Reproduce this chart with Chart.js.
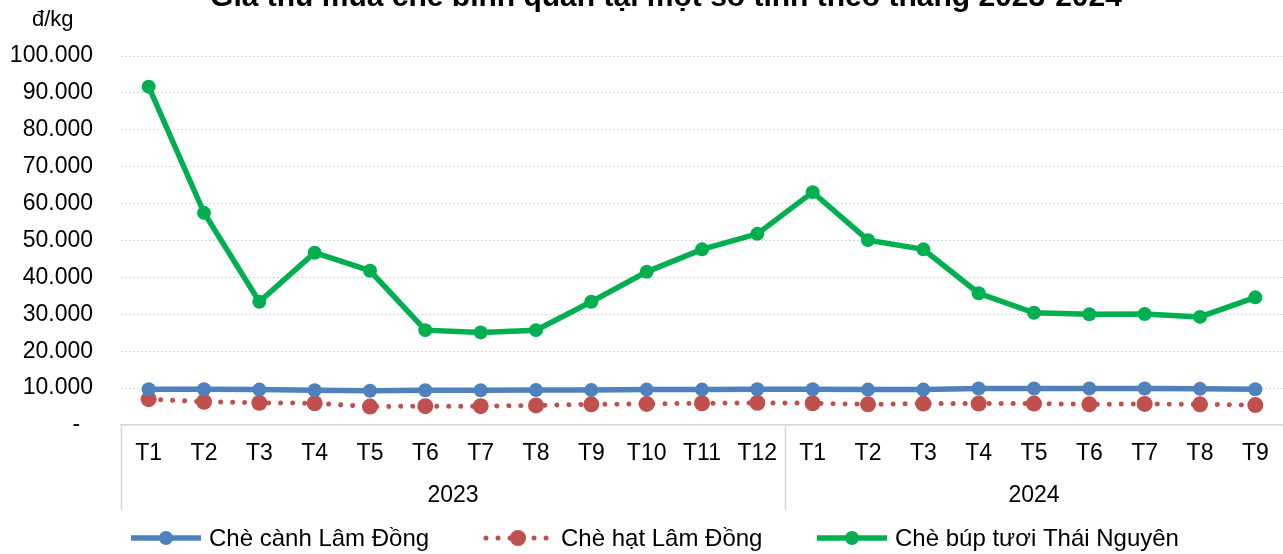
<!DOCTYPE html>
<html>
<head>
<meta charset="utf-8">
<script src="https://cdn.jsdelivr.net/npm/chart.js@4.4.1/dist/chart.umd.min.js"></script>
<style>
  html, body { margin: 0; padding: 0; background: #ffffff; }
  #wrap { width: 1283px; height: 554px; position: relative; }
</style>
</head>
<body>
<div id="wrap"><canvas id="c" width="1283" height="554"></canvas></div>
<script>
// ---- data ----
const months = ['T1','T2','T3','T4','T5','T6','T7','T8','T9','T10','T11','T12',
                'T1','T2','T3','T4','T5','T6','T7','T8','T9'];
const years = ['2023', '2024'];
const yearSpans = [12, 9];
const titleText = 'Giá thu mua chè bình quân tại một số tỉnh theo tháng 2023-2024';
const unitText = 'đ/kg';
const seriesNames = ['Chè cành Lâm Đồng', 'Chè hạt Lâm Đồng', 'Chè búp tươi Thái Nguyên'];
const cheCanh = [9700, 9700, 9600, 9400, 9300, 9400, 9400, 9500, 9500, 9600, 9600, 9700,
                 9700, 9600, 9600, 9900, 9900, 9900, 9900, 9800, 9700];
const cheHat = [7000, 6300, 6000, 5900, 5000, 5100, 5100, 5300, 5600, 5700, 5900, 6000,
                5900, 5600, 5800, 5800, 5800, 5600, 5700, 5600, 5400];
const cheBup = [91700, 57500, 33400, 46700, 41800, 25700, 25100, 25700, 33400, 41500, 47600, 51800,
                63100, 50100, 47600, 35700, 30400, 30000, 30100, 29300, 34600];
const yTickLabels = ['-  ', '10.000', '20.000', '30.000', '40.000', '50.000',
                     '60.000', '70.000', '80.000', '90.000', '100.000'];

const FONT = "'Liberation Sans', Arial, sans-serif";
const BLUE = '#4f81bd', RED = '#c0504d', GREEN = '#00b050', GRID = '#d9d9d9';
const legendStarts = [131, 483, 817];

const extras = {
  id: 'extras',
  afterDraw(chart) {
    const ctx = chart.ctx;
    const x = chart.scales.x;
    const area = chart.chartArea;
    ctx.save();
    // title (partially cut at top)
    ctx.fillStyle = '#000';
    ctx.font = 'bold 30px ' + FONT;
    ctx.textAlign = 'center';
    ctx.textBaseline = 'alphabetic';
    ctx.fillText(titleText, 666, 6);
    // unit
    ctx.font = '22px ' + FONT;
    ctx.textAlign = 'left';
    ctx.textBaseline = 'middle';
    ctx.fillText(unitText, 32, 20);
    // year group separators and labels
    ctx.strokeStyle = GRID;
    ctx.lineWidth = 1.5;
    let startIdx = 0;
    const half = (x.getPixelForValue(1) - x.getPixelForValue(0)) / 2;
    for (let g = 0; g < years.length; g++) {
      const endIdx = startIdx + yearSpans[g] - 1;
      const left = x.getPixelForValue(startIdx) - half;
      const right = Math.min(x.getPixelForValue(endIdx) + half, area.right);
      ctx.beginPath();
      ctx.moveTo(Math.round(left) + 0.5, area.bottom);
      ctx.lineTo(Math.round(left) + 0.5, 510);
      ctx.stroke();
      ctx.fillStyle = '#000';
      ctx.font = '23px ' + FONT;
      ctx.textAlign = 'center';
      ctx.textBaseline = 'middle';
      ctx.fillText(years[g], (left + right) / 2, 496);
      startIdx = endIdx + 1;
    }
    // legend
    const ly = 538;
    ctx.font = '24px ' + FONT;
    const lineLen = 70, gapText = 8;
    chart.data.datasets.forEach((ds, i) => {
      const cx = legendStarts[i];
      const dash = ds.borderDash || [];
      ctx.strokeStyle = ds.borderColor;
      ctx.lineWidth = ds.borderWidth;
      ctx.setLineDash(dash);
      ctx.lineCap = dash.length ? 'round' : 'butt';
      ctx.beginPath();
      ctx.moveTo(cx + (dash.length ? 3 : 0), ly);
      ctx.lineTo(cx + lineLen, ly);
      ctx.stroke();
      ctx.setLineDash([]);
      ctx.fillStyle = ds.borderColor;
      ctx.beginPath();
      ctx.arc(cx + lineLen / 2, ly, ds.pointRadius, 0, Math.PI * 2);
      ctx.fill();
      ctx.fillStyle = '#000';
      ctx.textAlign = 'left';
      ctx.textBaseline = 'middle';
      ctx.fillText(ds.label, cx + lineLen + gapText, ly + 1);
    });
    ctx.restore();
  }
};

new Chart(document.getElementById('c'), {
  type: 'line',
  data: {
    labels: months,
    datasets: [
      { label: seriesNames[0], data: cheCanh, borderColor: BLUE, backgroundColor: BLUE,
        borderWidth: 5.5, pointRadius: 7, pointBackgroundColor: BLUE, pointBorderWidth: 0, tension: 0 },
      { label: seriesNames[1], data: cheHat, borderColor: RED, backgroundColor: RED,
        borderWidth: 5, borderDash: [0.01, 12], borderCapStyle: 'round',
        pointRadius: 8, pointBackgroundColor: RED, pointBorderWidth: 0, tension: 0 },
      { label: seriesNames[2], data: cheBup, borderColor: GREEN, backgroundColor: GREEN,
        borderWidth: 5.5, pointRadius: 7, pointBackgroundColor: GREEN, pointBorderWidth: 0, tension: 0 }
    ]
  },
  options: {
    responsive: false,
    devicePixelRatio: 1,
    animation: false,
    layout: { autoPadding: false, padding: { top: 56, left: 0, right: 0, bottom: 0 } },
    plugins: { legend: { display: false }, title: { display: false }, tooltip: { enabled: false } },
    scales: {
      x: {
        offset: true,
        grid: { display: false, drawTicks: false },
        border: { display: true, color: GRID, width: 1.5 },
        ticks: { color: '#000', font: { family: FONT, size: 23 }, padding: 15, maxRotation: 0, autoSkip: false },
        afterFit: s => { s.height = 129; s.paddingLeft = 0; s.paddingRight = 0; }
      },
      y: {
        min: 0, max: 100000,
        grid: { color: GRID, lineWidth: 1, drawTicks: false },
        border: { display: false, dash: [2, 2] },
        ticks: {
          stepSize: 10000, color: '#000', font: { family: FONT, size: 23 }, padding: 28,
          callback: (v, i) => yTickLabels[i]
        },
        afterFit: s => { s.width = 121; }
      }
    }
  },
  plugins: [extras]
});
</script>
</body>
</html>
